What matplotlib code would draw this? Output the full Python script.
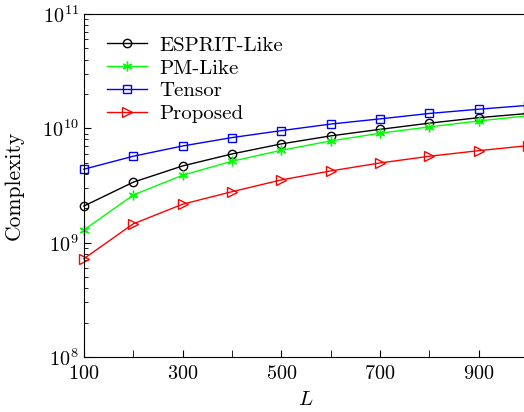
import matplotlib
matplotlib.use('Agg')
import matplotlib.pyplot as plt
from matplotlib.ticker import LogLocator, FixedLocator, MultipleLocator, NullFormatter

plt.rcParams['font.family'] = 'serif'
plt.rcParams['font.serif'] = ['cmr10', 'DejaVu Serif']
plt.rcParams['mathtext.fontset'] = 'cm'
plt.rcParams['axes.formatter.use_mathtext'] = True

# complexity vs L
L = [100, 200, 300, 400, 500, 600, 700, 800, 900, 1000]
esprit = [2.09e9, 3.38e9, 4.69e9, 5.97e9, 7.31e9, 8.59e9, 9.8e9, 1.11e10, 1.24e10, 1.35e10]
pm = [1.29e9, 2.61e9, 3.89e9, 5.15e9, 6.43e9, 7.76e9, 9.06e9, 1.03e10, 1.16e10, 1.29e10]
tensor = [4.39e9, 5.7e9, 7.01e9, 8.3e9, 9.55e9, 1.09e10, 1.21e10, 1.35e10, 1.47e10, 1.59e10]
proposed = [7.24e8, 1.46e9, 2.17e9, 2.79e9, 3.54e9, 4.24e9, 4.98e9, 5.7e9, 6.38e9, 7.06e9]

fig = plt.figure(figsize=(5.24, 4.12), dpi=100)
ax = fig.add_axes([0.160, 0.1335, 0.848, 0.8325])

ax.plot(L, esprit, 'k-o', mfc='none', ms=6, lw=1, label='ESPRIT-Like', clip_on=False)
ax.plot(L, pm, '-', color=(0, 1, 0), marker=(6, 2, 0), ms=7, lw=1, label='PM-Like', clip_on=False)
ax.plot(L, tensor, 'b-s', mfc='none', ms=5.5, lw=1, label='Tensor', clip_on=False)
ax.plot(L, proposed, 'r->', mfc='none', ms=7, lw=1, label='Proposed', clip_on=False)

ax.set_yscale('log')
ax.set_ylim(1e8, 1e11)
ax.set_xlim(100, 1000)
ax.xaxis.set_major_locator(FixedLocator([100, 300, 500, 700, 900]))
ax.xaxis.set_minor_locator(MultipleLocator(100))
ax.yaxis.set_minor_locator(LogLocator(base=10, subs=range(2, 10)))
ax.yaxis.set_minor_formatter(NullFormatter())
ax.tick_params(which='both', direction='in', labelsize=14.5, top=False, right=False)
ax.tick_params(which='major', length=5)
ax.tick_params(which='minor', length=3)
ax.tick_params(axis='x', which='both', length=5, pad=6)

ax.set_xlabel('$L$', fontsize=15)
ax.set_ylabel('Complexity', fontsize=15.5)
ax.yaxis.set_label_coords(-0.135, 0.5)
ax.xaxis.set_label_coords(0.5, -0.1)

ax.legend(loc='upper left', frameon=False, fontsize=15, handlelength=1.95,
          handletextpad=0.6, bbox_to_anchor=(0.009, 0.99), labelspacing=0.2)

fig.savefig('out.png', dpi=100)
